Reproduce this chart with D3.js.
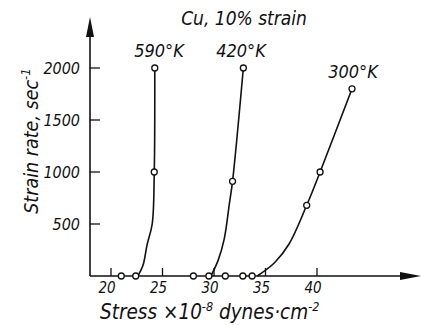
<!DOCTYPE html>
<html>
<head>
<meta charset="utf-8">
<script src="https://cdn.jsdelivr.net/npm/d3@7"></script>
<style>
  html, body { margin: 0; padding: 0; background: #fff; }
  svg text { font-family: "DejaVu Sans Condensed", "Liberation Sans Narrow", sans-serif; font-style: italic; fill: #111; }
</style>
</head>
<body>
<svg id="chart" width="423" height="325"></svg>
<script>
// Strain rate vs. flow stress of copper at 10% strain, three temperatures
const temperatures = ["590°K", "420°K", "300°K"];

// measured points (stress ×10^-8 dyn/cm², strain rate 1/s)
const stress590 = [21.0, 22.4, 24.2, 24.25];
const rate590   = [0, 0, 1000, 2000];
const stress420 = [28.0, 29.5, 31.8, 32.85];
const rate420   = [0, 0, 910, 2000];
const stress300 = [31.1, 32.8, 33.7, 39.0, 40.3, 43.4];
const rate300   = [0, 0, 0, 680, 1000, 1800];

// hand-drawn fit curves through the data
const fitStress590 = [22.6, 23.1, 23.5, 24.0, 24.2, 24.25];
const fitRate590   = [0, 100, 300, 500, 1000, 2000];
const fitStress420 = [29.7, 30.4, 31.0, 31.5, 31.8, 32.85];
const fitRate420   = [0, 150, 360, 700, 910, 2000];
const fitStress300 = [34.2, 35.9, 37.3, 39.0, 40.3, 43.4];
const fitRate300   = [0, 130, 310, 680, 1000, 1800];

const xTicks = [20, 25, 30, 35, 40];
const yTicks = [500, 1000, 1500, 2000];

const svg = d3.select("#chart");
const x = d3.scaleLinear().domain([20, 40]).range([111, 317]);
const y = d3.scaleLinear().domain([0, 2000]).range([276, 68]);
const x0 = 90, y0 = y(0);

const ink = "#111";

// axes with arrowheads
svg.append("line").attr("x1", x0).attr("y1", y0).attr("x2", x0).attr("y2", 30)
  .attr("stroke", ink).attr("stroke-width", 1.6);
svg.append("path").attr("d", `M${x0},17 L${x0 - 4},37 L${x0 + 4},37 Z`).attr("fill", ink);
svg.append("line").attr("x1", x0).attr("y1", y0).attr("x2", 405).attr("y2", y0)
  .attr("stroke", ink).attr("stroke-width", 1.6);
svg.append("path").attr("d", `M421,${y0} L400,${y0 - 4} L400,${y0 + 4} Z`).attr("fill", ink);

// y ticks point inward
const gy = svg.append("g");
yTicks.forEach(t => {
  gy.append("line").attr("x1", x0).attr("x2", x0 + 10).attr("y1", y(t)).attr("y2", y(t))
    .attr("stroke", ink).attr("stroke-width", 1.3);
  gy.append("text").attr("x", 80).attr("y", y(t) + 6).attr("text-anchor", "end")
    .attr("font-size", 16).text(t);
});

// x ticks point upward
const gx = svg.append("g");
xTicks.forEach(t => {
  gx.append("line").attr("x1", x(t)).attr("x2", x(t)).attr("y1", y0).attr("y2", y0 - 8)
    .attr("stroke", ink).attr("stroke-width", 1.3);
  gx.append("text").attr("x", x(t) - 4).attr("y", 293).attr("text-anchor", "middle")
    .attr("font-size", 15).text(t);
});

// fit curves
const line = d3.line().x(d => x(d[0])).y(d => y(d[1])).curve(d3.curveCatmullRom.alpha(0.5));
const fits = [
  d3.zip(fitStress590, fitRate590),
  d3.zip(fitStress420, fitRate420),
  d3.zip(fitStress300, fitRate300)
];
fits.forEach(f => {
  svg.append("path").attr("d", line(f)).attr("fill", "none")
    .attr("stroke", ink).attr("stroke-width", 1.6);
});

// measured points as open circles
const points = [
  d3.zip(stress590, rate590),
  d3.zip(stress420, rate420),
  d3.zip(stress300, rate300)
];
points.forEach(p => {
  svg.append("g").selectAll("circle").data(p).join("circle")
    .attr("cx", d => x(d[0])).attr("cy", d => y(d[1])).attr("r", 3)
    .attr("fill", "#fff").attr("stroke", ink).attr("stroke-width", 1.3);
});

// temperature labels above each curve top
const labelPos = [[159, 57], [241, 57], [353, 78]];
temperatures.forEach((t, i) => {
  svg.append("text").attr("x", labelPos[i][0]).attr("y", labelPos[i][1])
    .attr("text-anchor", "middle").attr("font-size", 18).text(t);
});

// title
svg.append("text").attr("x", 244).attr("y", 25).attr("text-anchor", "middle")
  .attr("font-size", 19).text("Cu, 10% strain");

// y axis title
const yl = svg.append("text").attr("transform", "translate(38,141) rotate(-90)")
  .attr("text-anchor", "middle").attr("font-size", 19.5);
yl.append("tspan").text("Strain rate, sec");
yl.append("tspan").attr("dy", -8).attr("font-size", 13).text("-1");

// x axis title
const xl = svg.append("text").attr("x", 100).attr("y", 319).attr("text-anchor", "start")
  .attr("font-size", 20.5);
xl.append("tspan").text("Stress ×10");
xl.append("tspan").attr("dy", -8).attr("font-size", 12.5).text("-8");
xl.append("tspan").attr("dy", 8).text(" dynes·cm");
xl.append("tspan").attr("dy", -8).attr("font-size", 12.5).text("-2");
</script>
</body>
</html>
